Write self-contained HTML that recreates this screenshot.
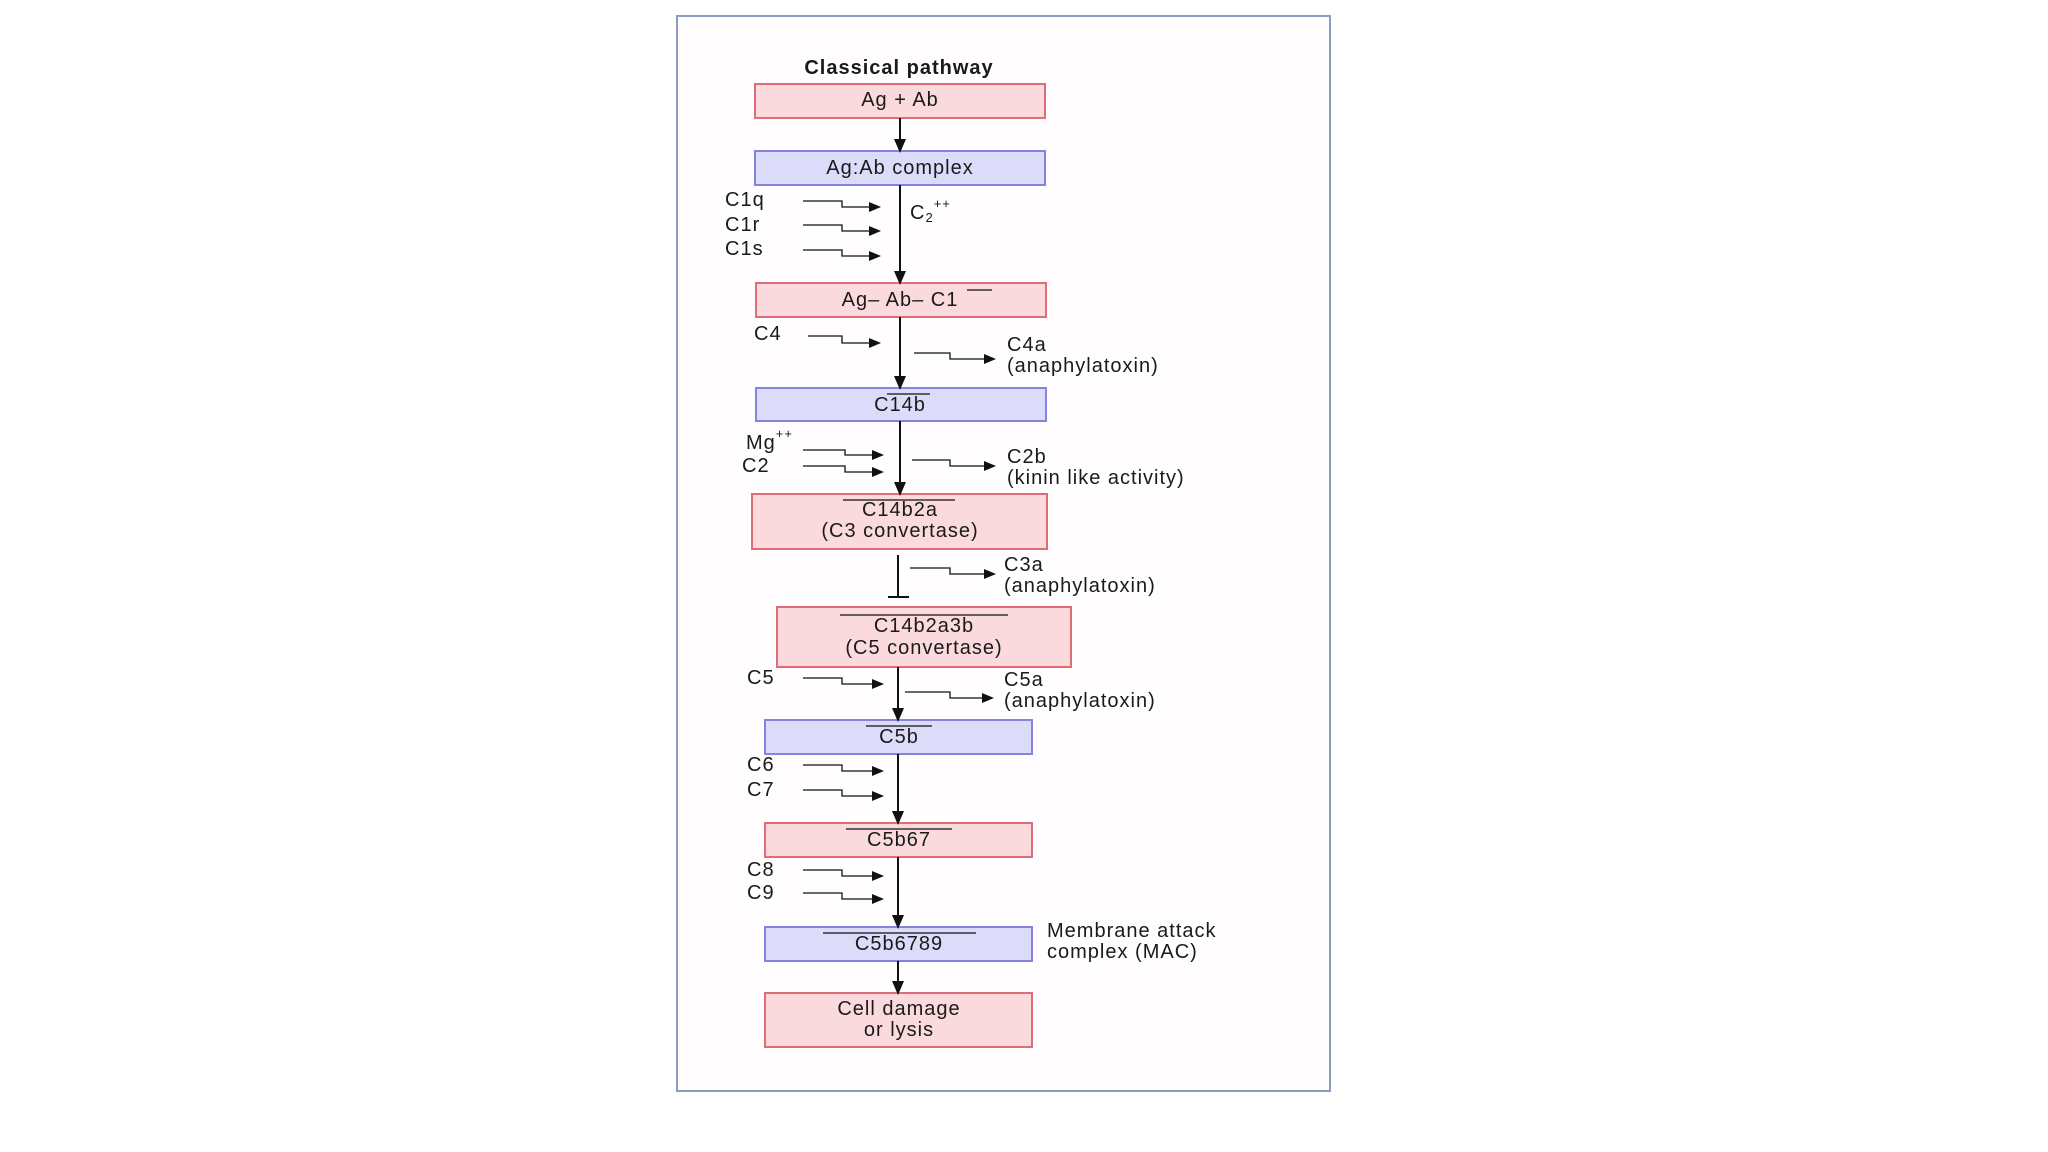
<!DOCTYPE html>
<html><head><meta charset="utf-8"><style>
html,body{margin:0;padding:0;background:#fff;}
svg{display:block}
text{font-family:"Liberation Sans",Arial,sans-serif;font-size:20px;fill:#1a1a1a;letter-spacing:1px;dominant-baseline:central}
.c{text-anchor:middle}
.p{fill:#fbdadd;stroke:#e06c78;stroke-width:2}
.b{fill:#dcdcfa;stroke:#8484dc;stroke-width:2}
.l{stroke:#111;stroke-width:2;fill:none}
.s{stroke:#111;stroke-width:1.3;fill:none}
</style></head><body>
<svg width="2048" height="1152" viewBox="0 0 2048 1152">
<defs>
<marker id="a" markerWidth="12" markerHeight="10" refX="1" refY="5" orient="auto" markerUnits="userSpaceOnUse"><path d="M0,0 L12,5 L0,10 z" fill="#111"/></marker>
<marker id="m" markerWidth="14" markerHeight="12" refX="12" refY="6" orient="auto" markerUnits="userSpaceOnUse"><path d="M0,0 L14,6 L0,12 z" fill="#111"/></marker>
<clipPath id="cl"><rect x="677" y="16" width="653" height="1075"/></clipPath>
</defs>
<rect x="677" y="16" width="653" height="1075" fill="#fffdfe" stroke="#8a9cc0" stroke-width="2"/>
<g clip-path="url(#cl)">
<text x="899" y="68" class="c" style="font-weight:bold">Classical pathway</text>
<rect class="p" x="755" y="84" width="290" height="34"/><text x="900" y="100" class="c">Ag  +  Ab</text>
<rect class="b" x="755" y="151" width="290" height="34"/><text x="900" y="168" class="c">Ag:Ab complex</text>
<rect class="p" x="756" y="283" width="290" height="34"/><text x="900" y="300" class="c">Ag–  Ab– C1</text>
<line class="s" x1="967" y1="290" x2="992" y2="290"/>
<rect class="b" x="756" y="388" width="290" height="33"/><text x="900" y="405" class="c">C14b</text>
<line class="s" x1="887" y1="394" x2="930" y2="394"/>
<rect class="p" x="752" y="494" width="295" height="55"/><text x="900" y="510" class="c">C14b2a</text><text x="900" y="531" class="c">(C3 convertase)</text>
<line class="s" x1="843" y1="500" x2="955" y2="500"/>
<rect class="p" x="777" y="607" width="294" height="60"/><text x="924" y="626" class="c">C14b2a3b</text><text x="924" y="648" class="c">(C5 convertase)</text>
<line class="s" x1="840" y1="615" x2="1008" y2="615"/>
<rect class="b" x="765" y="720" width="267" height="34"/><text x="899" y="737" class="c">C5b</text>
<line class="s" x1="866" y1="726" x2="932" y2="726"/>
<rect class="p" x="765" y="823" width="267" height="34"/><text x="899" y="840" class="c">C5b67</text>
<line class="s" x1="846" y1="829" x2="952" y2="829"/>
<rect class="b" x="765" y="927" width="267" height="34"/><text x="899" y="944" class="c">C5b6789</text>
<line class="s" x1="823" y1="933" x2="976" y2="933"/>
<rect class="p" x="765" y="993" width="267" height="54"/><text x="899" y="1009" class="c">Cell damage</text><text x="899" y="1030" class="c">or lysis</text>

<line class="l" x1="900" y1="118" x2="900" y2="151" marker-end="url(#m)"/>
<line class="l" x1="900" y1="185" x2="900" y2="283" marker-end="url(#m)"/>
<line class="l" x1="900" y1="317" x2="900" y2="388" marker-end="url(#m)"/>
<line class="l" x1="900" y1="421" x2="900" y2="494" marker-end="url(#m)"/>
<line class="l" x1="898" y1="555" x2="898" y2="597"/><line class="l" x1="888" y1="597" x2="909" y2="597"/>
<line class="l" x1="898" y1="667" x2="898" y2="720" marker-end="url(#m)"/>
<line class="l" x1="898" y1="754" x2="898" y2="823" marker-end="url(#m)"/>
<line class="l" x1="898" y1="857" x2="898" y2="927" marker-end="url(#m)"/>
<line class="l" x1="898" y1="961" x2="898" y2="993" marker-end="url(#m)"/>

<text x="725" y="200">C1q</text><text x="725" y="225">C1r</text><text x="725" y="249">C1s</text>
<text x="910" y="213">C<tspan font-size="13" dy="4">2</tspan><tspan font-size="13" dy="-14">++</tspan></text>
<path class="s" d="M803,201 H842 V207 H870" marker-end="url(#a)"/>
<path class="s" d="M803,225 H842 V231 H870" marker-end="url(#a)"/>
<path class="s" d="M803,250 H842 V256 H870" marker-end="url(#a)"/>
<text x="754" y="334">C4</text>
<path class="s" d="M808,336 H842 V343 H870" marker-end="url(#a)"/>
<path class="s" d="M914,353 H950 V359 H985" marker-end="url(#a)"/>
<text x="1007" y="345">C4a</text><text x="1007" y="366">(anaphylatoxin)</text>
<text x="746" y="443">Mg<tspan font-size="13" dy="-10">++</tspan></text><text x="742" y="466">C2</text>
<path class="s" d="M803,450 H845 V455 H873" marker-end="url(#a)"/>
<path class="s" d="M803,466 H845 V472 H873" marker-end="url(#a)"/>
<path class="s" d="M912,460 H950 V466 H985" marker-end="url(#a)"/>
<text x="1007" y="457">C2b</text><text x="1007" y="478">(kinin like activity)</text>
<path class="s" d="M910,568 H950 V574 H985" marker-end="url(#a)"/>
<text x="1004" y="565">C3a</text><text x="1004" y="586">(anaphylatoxin)</text>
<text x="747" y="678">C5</text>
<path class="s" d="M803,678 H842 V684 H873" marker-end="url(#a)"/>
<path class="s" d="M905,692 H950 V698 H983" marker-end="url(#a)"/>
<text x="1004" y="680">C5a</text><text x="1004" y="701">(anaphylatoxin)</text>
<text x="747" y="765">C6</text><text x="747" y="790">C7</text>
<path class="s" d="M803,765 H842 V771 H873" marker-end="url(#a)"/>
<path class="s" d="M803,790 H842 V796 H873" marker-end="url(#a)"/>
<text x="747" y="870">C8</text><text x="747" y="893">C9</text>
<path class="s" d="M803,870 H842 V876 H873" marker-end="url(#a)"/>
<path class="s" d="M803,893 H842 V899 H873" marker-end="url(#a)"/>
<text x="1047" y="931">Membrane attack</text><text x="1047" y="952">complex (MAC)</text>
</g>
</svg>
</body></html>
